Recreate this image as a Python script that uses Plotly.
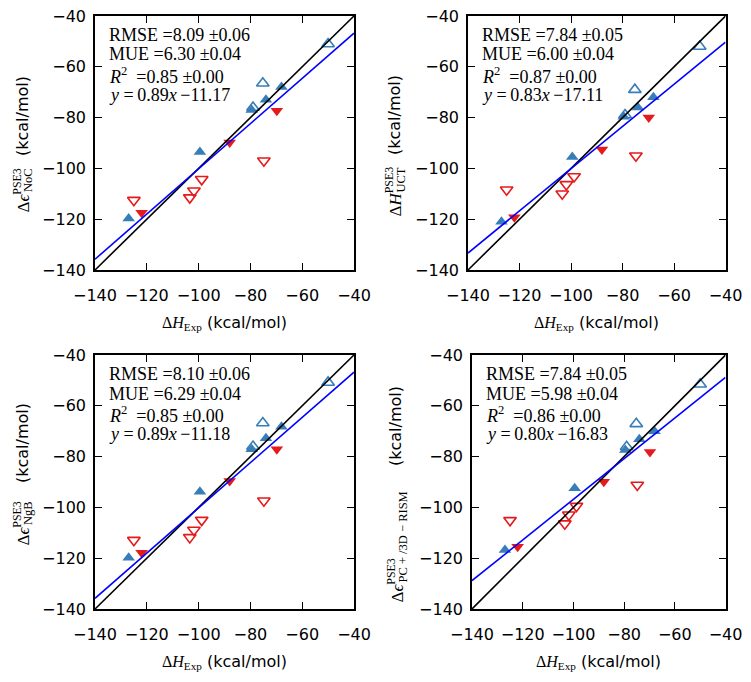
import plotly.graph_objects as go

W, H = 751, 682
OFF = 8  # page body margin of the browser

# ---- data (kcal/mol) ----
exp_blue_filled = [-68, -74, -79.5, -99.5, -127]
exp_blue_open = [-50, -75.2, -79]
exp_red_filled = [-69.8, -88, -122]
exp_red_open = [-74.8, -98.8, -101.8, -103.4, -125]

noc_blue_filled = [-68, -73, -77, -93.5, -119.7]
noc_blue_open = [-51, -66.5, -76]
noc_red_filled = [-77.3, -89.8, -117.5]
noc_red_open = [-97, -104.3, -108.8, -111.5, -112.5]

uct_blue_filled = [-72, -76, -79.7, -95.5, -121]
uct_blue_open = [-52, -69, -79]
uct_red_filled = [-80, -92.6, -119.2]
uct_red_open = [-95, -103.2, -106.3, -110, -108.4]

ngb_blue_filled = [-68.2, -72.8, -77.1, -93.8, -119.8]
ngb_blue_open = [-50.8, -66.8, -76]
ngb_red_filled = [-77.1, -89.6, -117.9]
ngb_red_open = [-97.4, -105, -108.9, -111.8, -112.9]

rism_blue_filled = [-70, -73.2, -77.4, -92.5, -116.8]
rism_blue_open = [-51.5, -67.1, -76.1]
rism_red_filled = [-78.2, -89.9, -115.5]
rism_red_open = [-91.2, -99.5, -102.9, -106.4, -105.1]

rmse = ["8.09", "7.84", "8.10", "7.84"]
rmse_err = ["0.06", "0.05", "0.06", "0.05"]
mue = ["6.30", "6.00", "6.29", "5.98"]
mue_err = ["0.04", "0.04", "0.04", "0.04"]
r2 = ["0.85", "0.87", "0.85", "0.86"]
r2_err = ["0.00", "0.00", "0.00", "0.00"]
slope = [0.89, 0.83, 0.89, 0.80]
intercept = [-11.17, -17.11, -11.18, -16.83]

axis_range = [-140, -40]
tick_values = [-140, -120, -100, -80, -60, -40]
sub_labels = ["NoC", "UCT", "NgB", "PC + /3D − RISM"]
main_symbols = ["<i>ϵ</i>", "<i>H</i>", "<i>ϵ</i>", "<i>ϵ</i>"]

series = [
    (noc_blue_filled, noc_blue_open, noc_red_filled, noc_red_open),
    (uct_blue_filled, uct_blue_open, uct_red_filled, uct_red_open),
    (ngb_blue_filled, ngb_blue_open, ngb_red_filled, ngb_red_open),
    (rism_blue_filled, rism_blue_open, rism_red_filled, rism_red_open),
]

# ---- layout geometry (screen pixels) ----
boxes = [(95, 354, 16, 270), (468, 725.5, 16, 270),
         (95, 354, 355, 609), (472, 725.5, 355, 609)]
# y-label geometry: (kcal center x, main bottom y, kcal bottom y)
ylab = [(22, 213, 157), (394, 218, 156), (22, 546, 484), (396, 604, 467)]

BLUE = "#377eb8"
RED = "#e41a1c"
SERIF = "Liberation Serif, DejaVu Serif, serif"
SANS = "DejaVu Sans"

fig = go.Figure()
layout = dict(width=W, height=H, margin=dict(l=0, r=0, t=0, b=0, autoexpand=False),
              paper_bgcolor="white", plot_bgcolor="white", showlegend=False)
annotations = []

def px(x):
    return (x - OFF) / W

def py(y):
    return 1 - (y - OFF) / H

MS = 11
for i in range(4):
    xa = "x" if i == 0 else f"x{i+1}"
    ya = "y" if i == 0 else f"y{i+1}"
    bf, bo, rf, ro = series[i]
    fig.add_trace(go.Scatter(x=exp_blue_open, y=bo, mode="markers", xaxis=xa, yaxis=ya,
                             marker=dict(symbol="triangle-up-open", size=MS, color=BLUE,
                                         line=dict(width=1.6, color=BLUE))))
    fig.add_trace(go.Scatter(x=exp_red_open, y=ro, mode="markers", xaxis=xa, yaxis=ya,
                             marker=dict(symbol="triangle-down-open", size=MS, color=RED,
                                         line=dict(width=1.6, color=RED))))
    fig.add_trace(go.Scatter(x=exp_blue_filled, y=bf, mode="markers", xaxis=xa, yaxis=ya,
                             marker=dict(symbol="triangle-up", size=MS, color=BLUE,
                                         line=dict(width=0))))
    fig.add_trace(go.Scatter(x=exp_red_filled, y=rf, mode="markers", xaxis=xa, yaxis=ya,
                             marker=dict(symbol="triangle-down", size=MS, color=RED,
                                         line=dict(width=0))))
    fig.add_trace(go.Scatter(x=axis_range, y=axis_range, mode="lines", xaxis=xa, yaxis=ya,
                             line=dict(color="black", width=1.6)))
    fit_y = [slope[i] * v + intercept[i] for v in axis_range]
    fig.add_trace(go.Scatter(x=axis_range, y=fit_y, mode="lines", xaxis=xa, yaxis=ya,
                             line=dict(color="#0000ff", width=1.6)))

    x0, x1, y0, y1 = boxes[i]
    common = dict(range=axis_range, tickvals=tick_values, ticks="inside", ticklen=7,
                  tickwidth=1, tickcolor="black", mirror="ticks", showline=True,
                  linecolor="black", linewidth=1.5, showgrid=False, zeroline=False,
                  automargin=False, ticklabeloverflow="allow",
                  tickfont=dict(family=SANS, size=16, color="black"), fixedrange=True)
    layout["xaxis" if i == 0 else f"xaxis{i+1}"] = dict(
        common, domain=[px(x0), px(x1)], anchor=ya, ticklabelstandoff=10)
    layout["yaxis" if i == 0 else f"yaxis{i+1}"] = dict(
        common, domain=[py(y1), py(y0)], anchor=xa, ticklabelstandoff=4)

    xd = xa + " domain"
    yd = ya + " domain"
    lines = [
        f"RMSE ={rmse[i]} ±{rmse_err[i]}",
        f"MUE ={mue[i]} ±{mue_err[i]}",
        f"<i>R</i><sup>2</sup>  ={r2[i]} ±{r2_err[i]}",
        f"<i>y</i> =\u2009{slope[i]:.2f}<i>x</i>\u2009−{abs(intercept[i]):.2f}",
    ]
    offs = [19, 38.5, 59.5, 78.5]
    for t, o in zip(lines, offs):
        annotations.append(dict(text=t, xref=xd, yref=yd, x=0, y=1, xshift=12, yshift=-o,
                                xanchor="left", yanchor="middle", showarrow=False,
                                font=dict(family=SERIF, size=18, color="black")))

    # x-axis title
    annotations.append(dict(
        text=f'<span style="font-family:{SERIF}">Δ<i>H</i><sub>Exp</sub></span> (kcal/mol)',
        xref="paper", yref="paper", x=px((x0 + x1) / 2), y=py(y1 + 53),
        xanchor="center", yanchor="middle", showarrow=False,
        font=dict(family=SANS, size=16, color="black")))

    # y-axis title pieces (rotated)
    kx, mb, kb = ylab[i]
    annotations.append(dict(
        text=f"Δ{main_symbols[i]}<sup>PSE3</sup>", xref="paper", yref="paper",
        x=px(kx + 11.5), y=py(mb), xanchor="right", yanchor="bottom", textangle=-90,
        showarrow=False, borderpad=0, font=dict(family=SERIF, size=17, color="black")))
    mainlen = 24 if i == 1 else 20
    annotations.append(dict(
        text=sub_labels[i], xref="paper", yref="paper",
        x=px(kx + 14), y=py(mb - mainlen), xanchor="right", yanchor="bottom", textangle=-90,
        showarrow=False, borderpad=0, font=dict(family=SERIF, size=12.5, color="black")))
    annotations.append(dict(
        text="(kcal/mol)", xref="paper", yref="paper",
        x=px(kx), y=py(kb), xanchor="center", yanchor="bottom", textangle=-90,
        showarrow=False, borderpad=0, font=dict(family=SANS, size=16, color="black")))

layout["annotations"] = annotations
fig.update_layout(**layout)
fig.write_html("out.html")
